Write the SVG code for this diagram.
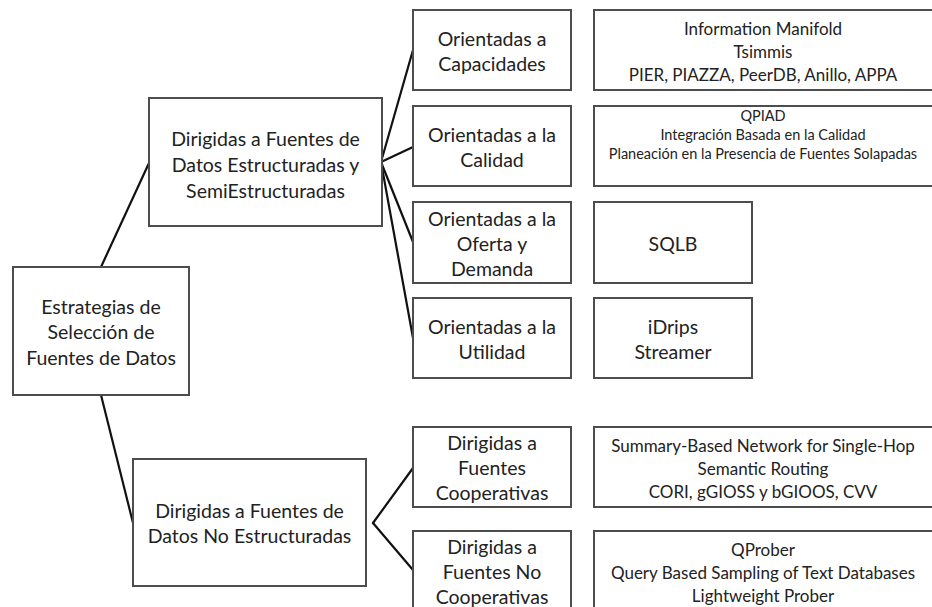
<svg xmlns="http://www.w3.org/2000/svg" width="932" height="607" viewBox="0 0 932 607">
<style>
  .box { fill: #ffffff; stroke: #4d4d4d; stroke-width: 2; }
  .t { font-family: Lato, "Open Sans", "Liberation Sans", sans-serif; fill: #222222; text-anchor: middle; }
  .lg { font-size: 19.5px; }
  .md { font-size: 17px; }
  .sm { font-size: 14.5px; }
  .conn line { stroke: #111111; stroke-width: 2.2; stroke-linecap: round; }
</style>
<rect x="0" y="0" width="932" height="607" fill="#ffffff"/>

<g id="connectors" class="conn">
  <line x1="101" y1="267" x2="149" y2="163"/>
  <line x1="101" y1="395" x2="133" y2="523"/>
  <line x1="381" y1="162" x2="413" y2="50"/>
  <line x1="381" y1="162" x2="413" y2="147"/>
  <line x1="381" y1="162" x2="413" y2="242"/>
  <line x1="381" y1="162" x2="413" y2="338"/>
  <line x1="373" y1="523" x2="413" y2="468"/>
  <line x1="373" y1="523" x2="413" y2="570"/>
</g>

<g id="root">
  <rect class="box" x="13" y="267" width="176" height="128"/>
  <text class="t lg" x="101" y="314">Estrategias de</text>
  <text class="t lg" x="101" y="339">Selección de</text>
  <text class="t lg" x="101" y="365">Fuentes de Datos</text>
</g>

<g id="estructuradas">
  <rect class="box" x="149" y="98" width="233" height="128"/>
  <text class="t lg" x="265.5" y="146">Dirigidas a Fuentes de</text>
  <text class="t lg" x="265.5" y="172">Datos Estructuradas y</text>
  <text class="t lg" x="265.5" y="198">SemiEstructuradas</text>
</g>

<g id="noestructuradas">
  <rect class="box" x="133" y="459" width="233" height="127"/>
  <text class="t lg" x="249.5" y="518">Dirigidas a Fuentes de</text>
  <text class="t lg" x="249.5" y="543">Datos No Estructuradas</text>
</g>

<g id="capacidades">
  <rect class="box" x="413" y="10" width="158" height="80"/>
  <text class="t lg" x="492" y="46">Orientadas a</text>
  <text class="t lg" x="492" y="71">Capacidades</text>
</g>

<g id="calidad">
  <rect class="box" x="413" y="106" width="158" height="80"/>
  <text class="t lg" x="492" y="142">Orientadas a la</text>
  <text class="t lg" x="492" y="167">Calidad</text>
</g>

<g id="oferta">
  <rect class="box" x="413" y="202" width="158" height="81"/>
  <text class="t lg" x="492" y="226">Orientadas a la</text>
  <text class="t lg" x="492" y="251">Oferta y</text>
  <text class="t lg" x="492" y="276">Demanda</text>
</g>

<g id="utilidad">
  <rect class="box" x="413" y="298" width="158" height="80"/>
  <text class="t lg" x="492" y="334">Orientadas a la</text>
  <text class="t lg" x="492" y="359">Utilidad</text>
</g>

<g id="cooperativas">
  <rect class="box" x="413" y="427" width="158" height="80"/>
  <text class="t lg" x="492" y="450">Dirigidas a</text>
  <text class="t lg" x="492" y="475">Fuentes</text>
  <text class="t lg" x="492" y="500">Cooperativas</text>
</g>

<g id="nocooperativas">
  <rect class="box" x="413" y="531" width="158" height="82"/>
  <text class="t lg" x="492" y="554">Dirigidas a</text>
  <text class="t lg" x="492" y="579">Fuentes No</text>
  <text class="t lg" x="492" y="604">Cooperativas</text>
</g>

<g id="ej-capacidades">
  <rect class="box" x="594" y="10" width="345" height="80"/>
  <text class="t md" x="763" y="35">Information Manifold</text>
  <text class="t md" x="763" y="58">Tsimmis</text>
  <text class="t md" x="763" y="81">PIER, PIAZZA, PeerDB, Anillo, APPA</text>
</g>

<g id="ej-calidad">
  <rect class="box" x="594" y="106" width="345" height="80"/>
  <text class="t sm" x="763" y="121">QPIAD</text>
  <text class="t sm" x="763" y="140">Integración Basada en la Calidad</text>
  <text class="t sm" x="763" y="159">Planeación en la Presencia de Fuentes Solapadas</text>
</g>

<g id="ej-oferta">
  <rect class="box" x="594" y="202" width="158" height="81"/>
  <text class="t lg" x="673" y="251">SQLB</text>
</g>

<g id="ej-utilidad">
  <rect class="box" x="594" y="298" width="158" height="80"/>
  <text class="t lg" x="673" y="334">iDrips</text>
  <text class="t lg" x="673" y="359">Streamer</text>
</g>

<g id="ej-cooperativas">
  <rect class="box" x="594" y="427" width="345" height="80"/>
  <text class="t md" x="763" y="452">Summary-Based Network for Single-Hop</text>
  <text class="t md" x="763" y="475">Semantic Routing</text>
  <text class="t md" x="763" y="498">CORI, gGIOSS y bGIOOS, CVV</text>
</g>

<g id="ej-nocooperativas">
  <rect class="box" x="594" y="531" width="345" height="82"/>
  <text class="t md" x="763" y="556">QProber</text>
  <text class="t md" x="763" y="579">Query Based Sampling of Text Databases</text>
  <text class="t md" x="763" y="602">Lightweight Prober</text>
</g>
</svg>
